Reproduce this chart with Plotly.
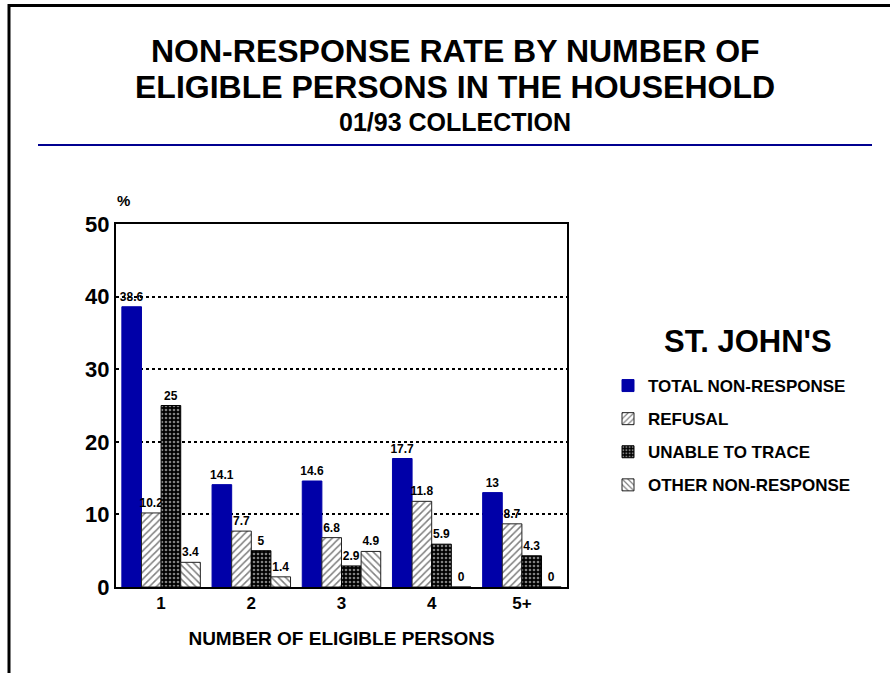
import plotly.graph_objects as go

categories = ["1", "2", "3", "4", "5+"]
total_nonresponse = [38.6, 14.1, 14.6, 17.7, 13]
refusal = [10.2, 7.7, 6.8, 11.8, 8.7]
unable_to_trace = [25, 5, 2.9, 5.9, 4.3]
other_nonresponse = [3.4, 1.4, 4.9, 0, 0]
y_ticks = [0, 10, 20, 30, 40, 50]

W, H = 890, 673
L, R, T, B = 116, 567, 224, 587

def px(x):
    return (x - L) / (R - L)

def py(y):
    return (B - y) / (B - T)

FONT = "Liberation Sans, Arial, sans-serif"
BLUE = "#0000a8"

fig = go.Figure()
series = [
    ("TOTAL NON-RESPONSE", total_nonresponse, dict(color=BLUE, line=dict(color=BLUE, width=1))),
    ("REFUSAL", refusal, dict(color="white", line=dict(color="#222", width=1),
                              pattern=dict(shape="/", fgcolor="black", bgcolor="white", size=5, solidity=0.3))),
    ("UNABLE TO TRACE", unable_to_trace, dict(color="black", line=dict(color="black", width=1),
                                              pattern=dict(shape=".", fgcolor="white", bgcolor="black", size=4, solidity=0.35))),
    ("OTHER NON-RESPONSE", other_nonresponse, dict(color="white", line=dict(color="#222", width=1),
                                                   pattern=dict(shape="\\", fgcolor="black", bgcolor="white", size=5, solidity=0.3))),
]
for i, (name, vals, marker) in enumerate(series):
    fig.add_trace(go.Bar(
        x=categories, y=vals, name=name, marker=marker,
        text=[f"{v:g}" for v in vals], textposition="outside", constraintext="none",
        textfont=dict(family=FONT, size=12, color="black", weight="bold"),
        cliponaxis=False, legendgroup=f"g{i}",
    ))

fig.update_layout(
    width=W, height=H,
    margin=dict(l=L, r=W - R, t=T, b=H - B),
    paper_bgcolor="white", plot_bgcolor="white",
    barmode="group", bargap=0.13, bargroupgap=0,
    font=dict(family=FONT, color="black"),
    showlegend=True,
    legend=dict(
        x=px(608), y=py(368), xanchor="left", yanchor="top",
        font=dict(family=FONT, size=17, color="black", weight="bold"),
        traceorder="grouped", tracegroupgap=8, itemwidth=30,
        bgcolor="rgba(0,0,0,0)",
    ),
    xaxis=dict(
        showline=True, mirror=True, linecolor="black", linewidth=2,
        ticks="", tickfont=dict(family=FONT, size=17, weight="bold"),
        title=dict(text="NUMBER OF ELIGIBLE PERSONS", font=dict(family=FONT, size=19, weight="bold"), standoff=19),
    ),
    yaxis=dict(
        range=[0, 50], tickvals=y_ticks, ticktext=[str(v) for v in y_ticks],
        showline=True, mirror=True, linecolor="black", linewidth=2,
        showgrid=True, gridcolor="black", griddash="dot", gridwidth=1.5,
        zeroline=False, ticks="", ticklen=4,
        tickfont=dict(family=FONT, size=22, weight="bold"),
    ),
)

annotations = [
    dict(text="NON-RESPONSE RATE BY NUMBER OF", x=px(455), y=py(51), size=32),
    dict(text="ELIGIBLE PERSONS IN THE HOUSEHOLD", x=px(455), y=py(87), size=32),
    dict(text="01/93 COLLECTION", x=px(455), y=py(122), size=25),
    dict(text="ST. JOHN'S", x=px(748), y=py(341), size=31),
    dict(text="%", x=px(123), y=py(200), size=15),
]
for a in annotations:
    fig.add_annotation(text=a["text"], x=a["x"], y=a["y"], xref="paper", yref="paper",
                       xanchor="center", yanchor="middle", showarrow=False,
                       font=dict(family=FONT, size=a["size"], color="black", weight="bold"))

# page frame and title rule
fig.add_shape(type="line", xref="paper", yref="paper", x0=px(8), x1=px(890), y0=py(5.5), y1=py(5.5),
              line=dict(color="black", width=3))
fig.add_shape(type="line", xref="paper", yref="paper", x0=px(9), x1=px(9), y0=py(4), y1=py(673),
              line=dict(color="black", width=3))
fig.add_shape(type="line", xref="paper", yref="paper", x0=px(38), x1=px(872), y0=py(145), y1=py(145),
              line=dict(color="#000090", width=2))

fig.write_html("out.html", config={"displayModeBar": False},
               post_script="document.body.style.margin='0';document.body.style.overflow='hidden';")
